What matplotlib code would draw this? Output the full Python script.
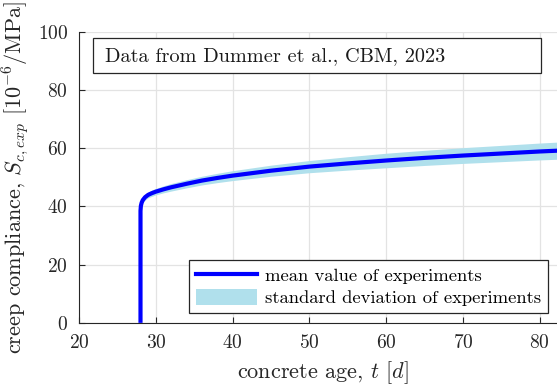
import numpy as np
import matplotlib
matplotlib.use('Agg')
import matplotlib.pyplot as plt
from matplotlib.patches import Patch, Rectangle
from matplotlib.lines import Line2D

plt.rcParams['font.family'] = 'serif'
plt.rcParams['font.serif'] = ['cmr10']
plt.rcParams['mathtext.fontset'] = 'cm'
plt.rcParams['axes.formatter.use_mathtext'] = True

# mean creep compliance
age = [28.0, 28.0, 28.05, 28.15, 28.3, 28.6, 29.0, 29.5, 30.0, 31.0, 32.0, 34.0, 36.0,
       38.0, 40.0, 45.0, 50.0, 55.0, 60.0, 65.0, 70.0, 75.0, 80.0, 85.0]
mean_val = [0.0, 38.5, 40.2, 41.3, 42.2, 43.2, 44.0, 44.6, 45.1, 45.9, 46.6, 47.8, 48.9,
            49.8, 50.6, 52.3, 53.7, 54.8, 55.8, 56.7, 57.5, 58.2, 58.9, 59.5]
std_val = [0.0, 0.6, 0.7, 0.8, 0.9, 1.0, 1.0, 1.1, 1.1, 1.2, 1.3, 1.4, 1.5,
           1.6, 1.7, 1.9, 2.1, 2.3, 2.5, 2.6, 2.7, 2.8, 2.9, 3.0]

t = np.array(age)
m = np.array(mean_val)
s = np.array(std_val)

fig = plt.figure(figsize=(5.57, 3.89), dpi=100)
ax = fig.add_axes([0.142, 0.170, 0.875, 0.748])

ax.fill_between(t, m - s, m + s, color='#b0e0ec', lw=0, zorder=2)
ax.plot(t, m, color='#0000ff', lw=3, zorder=3, solid_capstyle='butt')

ax.set_xlim(20, 83.5)
ax.set_ylim(0, 100)
ax.set_xticks([20, 30, 40, 50, 60, 70, 80])
ax.set_yticks([0, 20, 40, 60, 80, 100])
ax.grid(True, color='#e3e3e3', lw=0.9, zorder=0)
ax.set_axisbelow(True)
for side in ['top', 'right']:
    ax.spines[side].set_visible(False)
for side in ['left', 'bottom']:
    ax.spines[side].set_color('#262626')
ax.tick_params(labelsize=14, direction='in', length=4, colors='#262626')
ax.tick_params(axis='both', labelcolor='#262626', pad=8)

ax.set_xlabel(r'concrete age, $t$ $[d]$', fontsize=16, color='#262626', labelpad=5)
ax.set_ylabel(r'creep compliance, $S_{c,exp}$ $[10^{-6}/\mathrm{MPa}]$', fontsize=16,
              color='#262626', labelpad=5)

# annotation box with fixed size
ax.add_patch(Rectangle((0.029, 0.859), 0.918, 0.12, transform=ax.transAxes,
                       fc='white', ec='#262626', lw=0.9, zorder=5))
ax.text(0.053, 0.918, 'Data from Dummer et al., CBM, 2023', transform=ax.transAxes,
        fontsize=14.6, va='center', ha='left', color='#1a1a1a', zorder=6)

handles = [Line2D([], [], color='#0000ff', lw=3),
           Patch(facecolor='#b0e0ec', edgecolor='none')]
leg = ax.legend(handles, ['mean value of experiments', 'standard deviation of experiments'],
                loc='lower right', bbox_to_anchor=(0.962, 0.034), fontsize=13.4,
                fancybox=False, framealpha=1, edgecolor='#262626',
                handlelength=3.3, handleheight=0.9, borderpad=0.35, labelspacing=0.3,
                handletextpad=0.45, borderaxespad=0)
leg.get_frame().set_linewidth(0.9)

fig.savefig('out.png', dpi=100)
